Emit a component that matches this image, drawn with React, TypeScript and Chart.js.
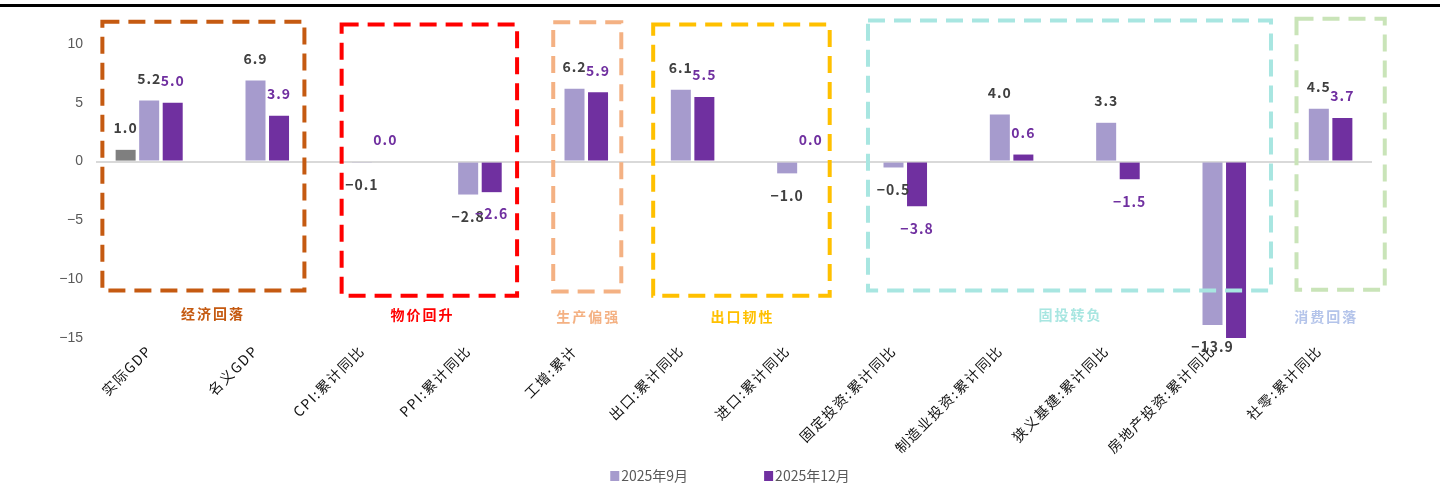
import React, { useEffect, useRef } from "react";
import { Chart, registerables } from "chart.js";

Chart.register(...registerables);

// ---- data ----
const categories = [
  "实际GDP",
  "名义GDP",
  "CPI:累计同比",
  "PPI:累计同比",
  "工增:累计",
  "出口:累计同比",
  "进口:累计同比",
  "固定投资:累计同比",
  "制造业投资:累计同比",
  "狭义基建:累计同比",
  "房地产投资:累计同比",
  "社零:累计同比",
];
const seriesNames = ["2025年9月", "2025年12月"];
const gdpQuarter = [1.0, null, null, null, null, null, null, null, null, null, null, null];
const sep2025 = [5.2, 6.9, -0.1, -2.8, 6.2, 6.1, -1.0, -0.5, 4.0, 3.3, -13.9, 4.5];
const dec2025 = [5.0, 3.9, 0.0, -2.6, 5.9, 5.5, 0.0, -3.8, 0.6, -1.5, -17.2, 3.7];
const yMin = -15;
const yMax = 10;
const yStep = 5;
const groupNames = ["经济回落", "物价回升", "生产偏强", "出口韧性", "固投转负", "消费回落"];

// ---- styling ----
const GREY = "#7F7F7F";
const LIGHT = "#A69BCD";
const DARK = "#7030A0";
const LABEL_DARK = "#404040";
const CJK = '"Noto Sans CJK SC", "Noto Sans", sans-serif';

// Dashed frames around category groups (x in category units, y in axis units)
const groupFrames = [
  { from: -0.44, to: 1.46, top: 11.9, bottom: -10.97, labelAt: 0.6, labelY: -12.95, stroke: "#C55A11", text: "#C55A11" },
  { from: 1.81, to: 3.46, top: 11.65, bottom: -11.4, labelAt: 2.57, labelY: -13.0, stroke: "#FF0000", text: "#FF0000" },
  { from: 3.8, to: 4.44, top: 11.85, bottom: -11.05, labelAt: 4.13, labelY: -13.15, stroke: "#F4B183", text: "#F4B183" },
  { from: 4.74, to: 6.4, top: 11.65, bottom: -11.4, labelAt: 5.58, labelY: -13.15, stroke: "#FFC000", text: "#FFC000" },
  { from: 6.76, to: 10.55, top: 12.0, bottom: -10.97, labelAt: 8.665, labelY: -13.0, stroke: "#A8E6E1", text: "#A8E6E1" },
  { from: 10.79, to: 11.62, top: 12.15, bottom: -10.9, labelAt: 11.07, labelY: -13.15, stroke: "#C9E4B8", text: "#B4C4EA" },
];

const fmt = (v: number) => {
  const s = Math.abs(v).toFixed(1);
  return v < 0 ? "\u2212" + s : s;
};

const overlayPlugin = {
  id: "overlay",
  afterLayout(chart: any) {
    // wider character spacing for the category labels
    const xs = chart.scales.x;
    if (xs && !xs.__spaced) {
      const orig = xs.drawLabels.bind(xs);
      xs.drawLabels = (area: any) => {
        const c = chart.ctx;
        c.save();
        c.letterSpacing = "1.5px";
        orig(area);
        c.restore();
      };
      xs.__spaced = true;
    }
  },
  afterDatasetsDraw(chart: any) {
    const ctx = chart.ctx as CanvasRenderingContext2D;
    const yScale = chart.scales.y;
    ctx.save();
    ctx.font = `bold 14px ${CJK}`;
    (ctx as any).letterSpacing = "1px";
    ctx.textAlign = "center";
    ctx.textBaseline = "middle";
    chart.data.datasets.forEach((ds: any, di: number) => {
      const meta = chart.getDatasetMeta(di);
      meta.data.forEach((bar: any, i: number) => {
        const v = ds.data[i];
        if (v === null || v === undefined) return;
        if (v < yScale.min || v > yScale.max) return;
        const yPos = v >= 0 ? bar.y - 22 : bar.y + 22;
        ctx.fillStyle = ds.labelColor;
        ctx.fillText(fmt(v), bar.x, yPos);
      });
    });
    ctx.restore();
  },
  afterDraw(chart: any) {
    const ctx = chart.ctx as CanvasRenderingContext2D;
    const xScale = chart.scales.x;
    const yScale = chart.scales.y;
    ctx.save();
    // group frames
    groupFrames.forEach((g, gi) => {
      const x1 = xScale.getPixelForValue(g.from);
      const x2 = xScale.getPixelForValue(g.to);
      const y1 = yScale.getPixelForValue(g.top);
      const y2 = yScale.getPixelForValue(g.bottom);
      ctx.strokeStyle = g.stroke;
      ctx.lineWidth = 4;
      ctx.setLineDash([17, 9]);
      ctx.strokeRect(x1, y1, x2 - x1, y2 - y1);
      ctx.setLineDash([]);
      ctx.font = `bold 14px ${CJK}`;
      (ctx as any).letterSpacing = "2px";
      ctx.fillStyle = g.text;
      ctx.textAlign = "center";
      ctx.textBaseline = "middle";
      ctx.fillText(groupNames[gi], xScale.getPixelForValue(g.labelAt), yScale.getPixelForValue(g.labelY));
    });
    (ctx as any).letterSpacing = "0px";
    // legend
    ctx.font = `14px ${CJK}`;
    const colors = [LIGHT, DARK];
    const box = 9;
    const gap = 76;
    const widths = seriesNames.map((n) => box + 2 + ctx.measureText(n).width);
    const total = widths[0] + gap + widths[1];
    let x = chart.width / 2 + 10 - total / 2;
    const ly = 476;
    seriesNames.forEach((n, i) => {
      ctx.fillStyle = colors[i];
      ctx.fillRect(x, ly - 5, box, 10);
      ctx.fillStyle = "#595959";
      ctx.textAlign = "left";
      ctx.textBaseline = "middle";
      ctx.fillText(n, x + box + 2, ly);
      x += widths[i] + gap;
    });
    ctx.restore();
  },
};

export default function App() {
  const canvasRef = useRef<HTMLCanvasElement | null>(null);

  useEffect(() => {
    if (!canvasRef.current) return;
    const chart = new Chart(canvasRef.current, {
      type: "bar",
      data: {
        labels: categories,
        datasets: [
          { label: "GDP", data: gdpQuarter, backgroundColor: GREY, labelColor: LABEL_DARK } as any,
          { label: seriesNames[0], data: sep2025, backgroundColor: LIGHT, labelColor: LABEL_DARK } as any,
          { label: seriesNames[1], data: dec2025, backgroundColor: DARK, labelColor: DARK } as any,
        ],
      },
      options: {
        responsive: false,
        animation: false,
        devicePixelRatio: 1,
        layout: { padding: { left: 0, right: 68, top: 44, bottom: 0 } },
        datasets: {
          bar: { categoryPercentage: 0.664, barPercentage: 0.85, borderWidth: 0 },
        },
        plugins: {
          legend: { display: false },
          tooltip: { enabled: false },
          title: { display: false },
        },
        scales: {
          x: {
            grid: { display: false, drawTicks: false },
            border: { display: false },
            ticks: {
              autoSkip: false,
              minRotation: 45,
              maxRotation: 45,
              padding: 4,
              color: "#111111",
              font: { family: CJK, size: 14 },
            },
            afterFit(scale: any) {
              scale.height = 145;
            },
          },
          y: {
            min: yMin,
            max: yMax,
            grid: {
              drawTicks: false,
              lineWidth: 2,
              color: (c: any) => (c.tick && c.tick.value === 0 ? "#D9D9D9" : "rgba(0,0,0,0)"),
            },
            border: { display: false },
            ticks: {
              stepSize: yStep,
              padding: 13,
              color: "#595959",
              font: { family: '"Liberation Sans", Arial, sans-serif', size: 14 },
              callback: (v: any) => String(v).replace("-", "\u2212"),
            },
            afterFit(scale: any) {
              scale.width = 96;
            },
          },
        },
      },
      plugins: [overlayPlugin],
    });
    return () => chart.destroy();
  }, []);

  return (
    <div style={{ position: "fixed", left: 0, top: 0, width: 1440, height: 483, background: "#fff" }}>
      <div style={{ position: "absolute", left: 0, top: 4, width: 1440, height: 3, background: "#000" }} />
      <canvas ref={canvasRef} width={1440} height={483} style={{ position: "absolute", left: 0, top: 0 }} />
    </div>
  );
}
